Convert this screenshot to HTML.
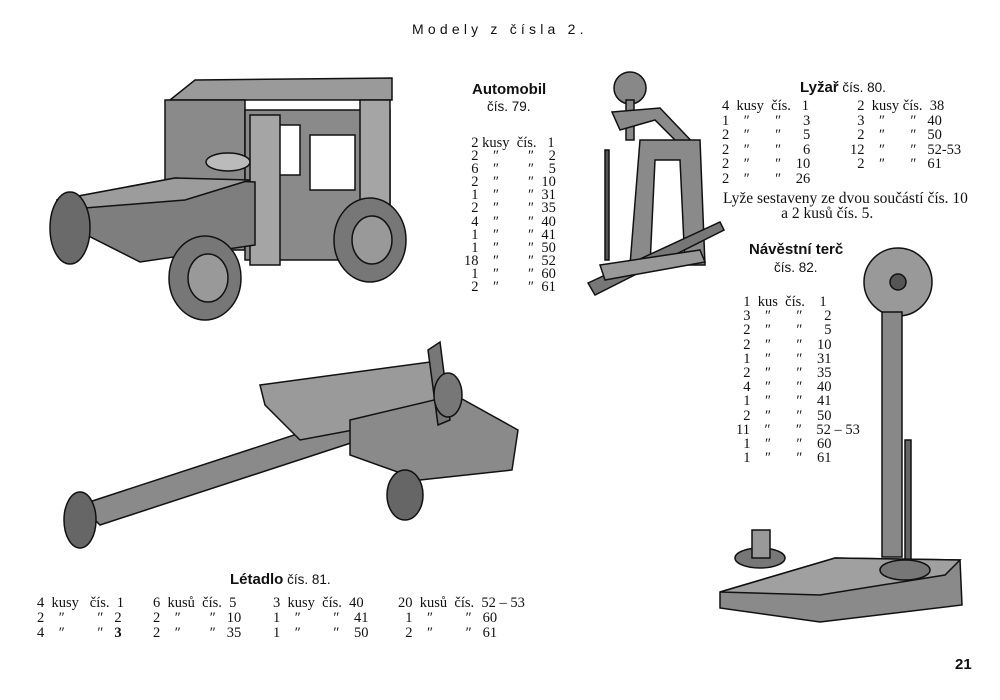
<!DOCTYPE html>
<html><head><meta charset="utf-8"><style>
html,body{margin:0;padding:0;background:#fff;}
#p{position:relative;width:1000px;height:700px;overflow:hidden;background:#fff;font-family:"Liberation Serif",serif;color:#111;}
.t{position:absolute;white-space:pre;font-size:14.5px;line-height:14px;}
.b{font-family:"Liberation Sans",sans-serif;font-weight:bold;font-size:14px;}
.s{font-family:"Liberation Sans",sans-serif;font-size:13.5px;}
svg{position:absolute;left:0;top:0;}
</style></head><body><div id="p">
<svg width="1000" height="700" viewBox="0 0 1000 700">
<g stroke="#111" stroke-width="1.5" fill="#8a8a8a">
<polygon points="170,100 195,80 392,78 392,100" fill="#9a9a9a"/>
<rect x="165" y="100" width="80" height="150"/>
<rect x="245" y="110" width="145" height="150"/>
<rect x="260" y="125" width="40" height="50" fill="#fff"/>
<rect x="310" y="135" width="45" height="55" fill="#fff"/>
<rect x="250" y="115" width="30" height="150" fill="#a5a5a5"/>
<rect x="360" y="100" width="30" height="135" fill="#a5a5a5"/>
<polygon points="57,200 175,178 255,182 255,245 140,262 57,220" fill="#7e7e7e"/>
<polygon points="57,200 175,178 250,180 185,200 60,210" fill="#9c9c9c"/>
<ellipse cx="70" cy="228" rx="20" ry="36" fill="#6a6a6a"/>
<ellipse cx="205" cy="278" rx="36" ry="42" fill="#777"/>
<ellipse cx="208" cy="278" rx="20" ry="24" fill="#999"/>
<ellipse cx="370" cy="240" rx="36" ry="42" fill="#777"/>
<ellipse cx="372" cy="240" rx="20" ry="24" fill="#999"/>
<ellipse cx="228" cy="162" rx="22" ry="9" fill="#bbb"/>
<circle cx="630" cy="88" r="16" fill="#888"/>
<rect x="626" y="100" width="8" height="40"/>
<polygon points="612,112 660,108 700,150 690,155 655,120 620,130"/>
<rect x="605" y="150" width="4" height="110" fill="#555"/>
<polygon points="640,140 700,140 705,265 685,265 680,160 655,160 650,265 630,265"/>
<polygon points="588,283 720,222 724,230 595,295" fill="#777"/>
<polygon points="600,265 700,250 705,262 605,280" fill="#999"/>
<polygon points="80,505 340,420 360,440 100,525" fill="#8a8a8a"/>
<polygon points="260,385 430,362 460,410 300,440 265,405" fill="#9a9a9a"/>
<polygon points="350,420 455,395 518,430 512,470 420,480 350,455" fill="#8a8a8a"/>
<polygon points="428,350 440,342 450,420 438,425" fill="#777"/>
<ellipse cx="448" cy="395" rx="14" ry="22" fill="#777"/>
<ellipse cx="80" cy="520" rx="16" ry="28" fill="#666"/>
<ellipse cx="405" cy="495" rx="18" ry="25" fill="#666"/>
<circle cx="898" cy="282" r="34" fill="#999"/>
<circle cx="898" cy="282" r="8" fill="#555"/>
<rect x="882" y="312" width="20" height="245" fill="#888"/>
<rect x="905" y="440" width="6" height="130" fill="#666"/>
<polygon points="720,592 835,558 960,560 962,605 820,622 720,608" fill="#8a8a8a"/>
<polygon points="720,592 835,558 960,560 945,575 820,595" fill="#a0a0a0"/>
<ellipse cx="760" cy="558" rx="25" ry="10" fill="#777"/>
<rect x="752" y="530" width="18" height="28" fill="#999"/>
<ellipse cx="905" cy="570" rx="25" ry="10" fill="#777"/>
</g>
</svg>

<div class="t s" style="left:412px;top:22px;letter-spacing:4.2px;font-size:14px">Modely z čísla 2.</div>

<div class="t b" style="left:472px;top:83px;font-size:15px">Automobil</div>
<div class="t s" style="left:487px;top:100px">čís. 79.</div>
<div class="t" style="left:464px;top:137px;line-height:13.1px">  2 kusy  čís.   1
  2    ″        ″    2
  6    ″        ″    5
  2    ″        ″  10
  1    ″        ″  31
  2    ″        ″  35
  4    ″        ″  40
  1    ″        ″  41
  1    ″        ″  50
18    ″        ″  52
  1    ″        ″  60
  2    ″        ″  61</div>

<div class="t" style="left:800px;top:81px"><span class="b" style="font-size:15px">Lyžař</span><span class="s"> čís. 80.</span></div>
<div class="t" style="left:722px;top:99px;line-height:14.6px">4  kusy  čís.   1
1    ″       ″      3
2    ″       ″      5
2    ″       ″      6
2    ″       ″    10
2    ″       ″    26</div>
<div class="t" style="left:850px;top:99px;line-height:14.6px">  2  kusy čís.  38
  3    ″       ″   40
  2    ″       ″   50
12    ″       ″   52-53
  2    ″       ″   61</div>
<div class="t" style="left:723px;top:191px;line-height:15px;font-size:15.5px">Lyže sestaveny ze dvou součástí čís. 10
               a 2 kusů čís. 5.</div>

<div class="t b" style="left:749px;top:243px;font-size:15px">Návěstní terč</div>
<div class="t s" style="left:774px;top:261px">čís. 82.</div>
<div class="t" style="left:736px;top:295px;line-height:14.2px">  1  kus  čís.    1
  3    ″       ″      2
  2    ″       ″      5
  2    ″       ″    10
  1    ″       ″    31
  2    ″       ″    35
  4    ″       ″    40
  1    ″       ″    41
  2    ″       ″    50
11    ″       ″    52 – 53
  1    ″       ″    60
  1    ″       ″    61</div>

<div class="t" style="left:230px;top:573px"><span class="b" style="font-size:15px">Létadlo</span><span class="s"> čís. 81.</span></div>
<div class="t" style="left:37px;top:596px;line-height:15px">4  kusy   čís.  1
2    ″         ″   2
4    ″         ″   <b>3</b></div>
<div class="t" style="left:153px;top:596px;line-height:15px">6  kusů  čís.  5
2    ″        ″   10
2    ″        ″   35</div>
<div class="t" style="left:273px;top:596px;line-height:15px">3  kusy  čís.  40
1    ″         ″    41
1    ″         ″    50</div>
<div class="t" style="left:398px;top:596px;line-height:15px">20  kusů  čís.  52 – 53
  1    ″         ″   60
  2    ″         ″   61</div>

<div class="t b" style="left:955px;top:658px;font-size:15px">21</div>
</div></body></html>
